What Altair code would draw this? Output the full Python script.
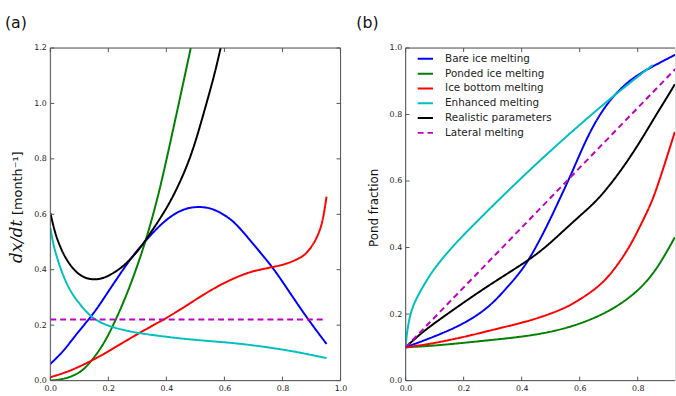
import altair as alt
import pandas as pd

# ---------------- data ----------------
names = ["Bare ice melting", "Ponded ice melting", "Ice bottom melting",
         "Enhanced melting", "Realistic parameters", "Lateral melting"]
colors = ["#0000ff", "#008000", "#ff0000", "#00bfbf", "#000000", "#bf00bf"]
dashes = [[1, 0], [1, 0], [1, 0], [1, 0], [1, 0], [6, 4]]

# panel (a): dx/dt
a_bare_x = [0.0, 0.025, 0.05, 0.074, 0.10, 0.13, 0.16, 0.187, 0.215, 0.244, 0.28, 0.323, 0.37, 0.414, 0.46, 0.504, 0.55, 0.589, 0.625, 0.658, 0.714, 0.769, 0.828, 0.89, 0.952]
a_bare_y = [0.060, 0.085, 0.113, 0.146, 0.180, 0.218, 0.258, 0.301, 0.345, 0.390, 0.445, 0.498, 0.553, 0.593, 0.620, 0.628, 0.624, 0.605, 0.580, 0.545, 0.474, 0.406, 0.313, 0.218, 0.132]
a_pond_x = [0.0, 0.05, 0.096, 0.12, 0.153, 0.185, 0.21, 0.24, 0.266, 0.295, 0.323, 0.345, 0.368, 0.384, 0.401, 0.443, 0.484]
a_pond_y = [0.0, 0.005, 0.025, 0.045, 0.085, 0.135, 0.185, 0.253, 0.318, 0.399, 0.486, 0.563, 0.653, 0.722, 0.8, 1.0, 1.2]
a_bottom_x = [0.0, 0.05, 0.1, 0.15, 0.2, 0.25, 0.31, 0.391, 0.459, 0.527, 0.58, 0.624, 0.67, 0.703, 0.769, 0.81, 0.839, 0.865, 0.884, 0.905, 0.918, 0.93, 0.941, 0.952]
a_bottom_y = [0.012, 0.028, 0.05, 0.076, 0.105, 0.137, 0.174, 0.22, 0.263, 0.31, 0.342, 0.365, 0.385, 0.396, 0.41, 0.42, 0.432, 0.445, 0.46, 0.49, 0.515, 0.545, 0.587, 0.664]
a_enh_x = [0.0, 0.01, 0.028, 0.045, 0.062, 0.08, 0.096, 0.12, 0.141, 0.175, 0.21, 0.26, 0.323, 0.437, 0.527, 0.646, 0.816, 0.952]
a_enh_y = [0.551, 0.49, 0.426, 0.377, 0.337, 0.306, 0.283, 0.253, 0.23, 0.208, 0.194, 0.18, 0.168, 0.153, 0.144, 0.135, 0.111, 0.081]
a_real_x = [0.0, 0.017, 0.035, 0.051, 0.075, 0.096, 0.12, 0.147, 0.175, 0.2, 0.244, 0.29, 0.323, 0.35, 0.38, 0.414, 0.448, 0.481, 0.51, 0.538, 0.565, 0.587]
a_real_y = [0.605, 0.528, 0.48, 0.444, 0.407, 0.385, 0.37, 0.364, 0.367, 0.377, 0.405, 0.452, 0.498, 0.54, 0.587, 0.646, 0.718, 0.8, 0.895, 1.0, 1.1, 1.2]
a_lat_x = [0.0, 0.945]
a_lat_y = [0.22, 0.22]

# panel (b): pond fraction
b_bare_x = [0.0, 0.05, 0.1, 0.15, 0.2, 0.25, 0.3, 0.35, 0.39, 0.426, 0.48, 0.528, 0.568, 0.60, 0.636, 0.693, 0.772, 0.852, 0.93]
b_bare_y = [0.1, 0.116, 0.133, 0.151, 0.172, 0.198, 0.232, 0.28, 0.32, 0.364, 0.451, 0.54, 0.615, 0.68, 0.75, 0.835, 0.906, 0.945, 0.98]
b_pond_x = [0.0, 0.103, 0.217, 0.33, 0.432, 0.545, 0.659, 0.749, 0.817, 0.862, 0.897, 0.928]
b_pond_y = [0.1, 0.105, 0.115, 0.125, 0.135, 0.154, 0.189, 0.233, 0.283, 0.332, 0.382, 0.431]
b_bottom_x = [0.0, 0.05, 0.103, 0.217, 0.33, 0.432, 0.545, 0.6, 0.659, 0.70, 0.738, 0.77, 0.795, 0.823, 0.85, 0.874, 0.90, 0.928]
b_bottom_y = [0.1, 0.106, 0.113, 0.134, 0.159, 0.18, 0.215, 0.243, 0.278, 0.313, 0.357, 0.40, 0.441, 0.49, 0.54, 0.6, 0.67, 0.748]
b_enh_x = [0.0, 0.004, 0.012, 0.025, 0.047, 0.075, 0.103, 0.16, 0.217, 0.273, 0.324, 0.432, 0.545, 0.659, 0.772, 0.852]
b_enh_y = [0.1, 0.14, 0.184, 0.225, 0.263, 0.305, 0.342, 0.402, 0.453, 0.502, 0.546, 0.637, 0.727, 0.814, 0.895, 0.949]
b_real_x = [0.0, 0.05, 0.103, 0.16, 0.217, 0.273, 0.33, 0.38, 0.426, 0.466, 0.5, 0.545, 0.6, 0.659, 0.72, 0.772, 0.82, 0.862, 0.9, 0.928]
b_real_y = [0.1, 0.14, 0.175, 0.21, 0.245, 0.278, 0.31, 0.338, 0.364, 0.39, 0.415, 0.451, 0.495, 0.54, 0.605, 0.669, 0.735, 0.797, 0.85, 0.891]
b_lat_x = [0.0, 0.93]
b_lat_y = [0.1, 0.937]

a_xticks = [0.0, 0.2, 0.4, 0.6, 0.8, 1.0]
a_yticks = [0.0, 0.2, 0.4, 0.6, 0.8, 1.0, 1.2]
b_xticks = [0.0, 0.2, 0.4, 0.6, 0.8]
b_yticks = [0.0, 0.2, 0.4, 0.6, 0.8, 1.0]

FONT = "DejaVu Sans"
EDGE = "#555555"
LBL = "#222222"


def long_df(xs_list, ys_list):
    rows = []
    for name, xs, ys in zip(names, xs_list, ys_list):
        for i, (xv, yv) in enumerate(zip(xs, ys)):
            rows.append({"series": name, "x": xv, "y": yv, "i": i})
    return pd.DataFrame(rows)


df_a = long_df([a_bare_x, a_pond_x, a_bottom_x, a_enh_x, a_real_x, a_lat_x],
               [a_bare_y, a_pond_y, a_bottom_y, a_enh_y, a_real_y, a_lat_y])
df_b = long_df([b_bare_x, b_pond_x, b_bottom_x, b_enh_x, b_real_x, b_lat_x],
               [b_bare_y, b_pond_y, b_bottom_y, b_enh_y, b_real_y, b_lat_y])

one = pd.DataFrame({"k": [0]})


def text_mark(s, x, y, size, angle=0, font=FONT, style="normal", align="left", baseline="alphabetic"):
    return alt.Chart(pd.DataFrame({"t": [s]})).mark_text(
        font=font, fontSize=size, fontStyle=style, angle=angle, align=align,
        baseline=baseline, color="#111111"
    ).encode(text="t:N", x=alt.value(x), y=alt.value(y))


def panel(df, W, H, xdom, ydom, xt, yt, legend, right_border, texts):
    xs = alt.Scale(domain=xdom, nice=False, zero=False)
    ys = alt.Scale(domain=ydom, nice=False, zero=False)
    xax = alt.Axis(values=xt, format=".1f", domain=False, ticks=False, grid=False,
                   labelFontSize=8, labelFont=FONT, labelColor=LBL, labelPadding=4,
                   title=None, labelFlush=False)
    yax = alt.Axis(values=yt, format=".1f", domain=False, ticks=False, grid=False,
                   labelFontSize=8, labelFont=FONT, labelColor=LBL, labelPadding=4,
                   title=None, labelFlush=False)
    lines = alt.Chart(df).mark_line(strokeWidth=2, interpolate="basis", clip=True).encode(
        x=alt.X("x:Q", scale=xs, axis=xax),
        y=alt.Y("y:Q", scale=ys, axis=yax),
        color=alt.Color("series:N", scale=alt.Scale(domain=names, range=colors), legend=legend),
        strokeDash=alt.StrokeDash("series:N", scale=alt.Scale(domain=names, range=dashes), legend=legend),
        order="i:Q",
    )
    xtdf = pd.DataFrame({"v": xt})
    ytdf = pd.DataFrame({"v": yt})
    layers = [lines]
    # inward ticks
    layers.append(alt.Chart(xtdf).mark_rule(color=EDGE, strokeWidth=1).encode(
        x=alt.X("v:Q", scale=xs, axis=xax), y=alt.value(H), y2=alt.value(H - 4)))
    layers.append(alt.Chart(xtdf).mark_rule(color=EDGE, strokeWidth=1).encode(
        x=alt.X("v:Q", scale=xs, axis=xax), y=alt.value(0), y2=alt.value(4)))
    layers.append(alt.Chart(ytdf).mark_rule(color=EDGE, strokeWidth=1).encode(
        y=alt.Y("v:Q", scale=ys, axis=yax), x=alt.value(0), x2=alt.value(4)))
    if right_border:
        layers.append(alt.Chart(ytdf).mark_rule(color=EDGE, strokeWidth=1).encode(
            y=alt.Y("v:Q", scale=ys, axis=yax), x=alt.value(W - 4), x2=alt.value(W)))
    # frame
    layers.append(alt.Chart(one).mark_rule(color=EDGE, strokeWidth=1).encode(
        x=alt.value(0), x2=alt.value(W), y=alt.value(0)))
    layers.append(alt.Chart(one).mark_rule(color=EDGE, strokeWidth=1).encode(
        x=alt.value(0), x2=alt.value(W), y=alt.value(H)))
    layers.append(alt.Chart(one).mark_rule(color=EDGE, strokeWidth=1).encode(
        x=alt.value(0), y=alt.value(0), y2=alt.value(H)))
    if right_border:
        layers.append(alt.Chart(one).mark_rule(color=EDGE, strokeWidth=1).encode(
            x=alt.value(W), y=alt.value(0), y2=alt.value(H)))
    layers.extend(texts)
    return alt.layer(*layers).properties(width=W, height=H)


H = 337
WA = 294
WB = 273

legend_b = alt.Legend(title=None, orient="none", legendX=11, legendY=2,
                      symbolType="stroke", symbolSize=240, symbolStrokeWidth=2,
                      labelFont=FONT, labelFontSize=10.5, labelColor=LBL,
                      labelOffset=11, rowPadding=0, padding=0)

texts_a = [
    text_mark("(a)", -46, -33, 16, baseline="top"),
    text_mark("dx/dt", -29, 196, 17, angle=270, font="DejaVu Serif", style="italic", align="center"),
    text_mark("[month\u207b\u00b9]", -29, 137, 13, angle=270, align="center"),
]
texts_b = [
    text_mark("(b)", -50, -33, 16, baseline="top"),
    text_mark("Pond fraction", -28, 162, 12, angle=270, align="center"),
]

pa = panel(df_a, WA, H, [0, 1.0], [0, 1.2], a_xticks, a_yticks, None, True, texts_a)
pb = panel(df_b, WB, H, [0, WB / WA], [0, 1.0], b_xticks, b_yticks, legend_b, False, texts_b)

chart = alt.hconcat(pa, pb, spacing=8).resolve_scale(
    x="independent", y="independent", color="independent", strokeDash="independent"
).properties(
    padding={"left": 4, "top": 12, "right": 0, "bottom": 0}
).configure_view(strokeWidth=0).configure(background="white")

chart.save("out.html", embed_options={"renderer": "svg", "actions": False})
